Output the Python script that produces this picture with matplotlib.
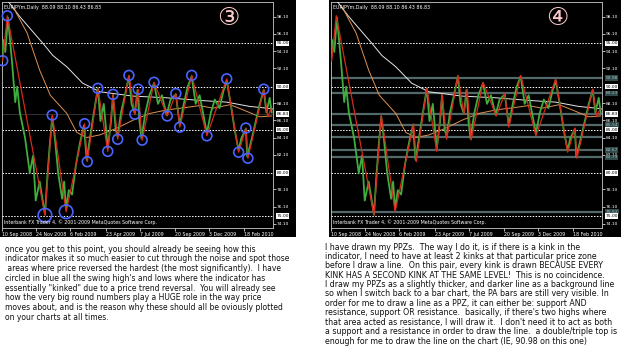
import numpy as np
import matplotlib.pyplot as plt
from matplotlib.patches import Rectangle
from matplotlib.transforms import blended_transform_factory

W, H = 625, 358

# trading-day index vs price
green_x = [0, 2, 5, 9, 15, 20, 23, 27, 35, 42, 47, 51, 57, 65, 69, 72, 76, 80, 85, 91,
           94, 97, 101, 106, 112, 118, 124, 128, 133, 139, 145, 149, 154, 160, 165, 168,
           172, 175, 180, 186, 192, 196, 201, 205, 208, 211, 217, 223, 230, 236, 242,
           249, 255, 263, 269, 275, 281, 287, 293, 299, 304, 310, 316, 322, 329, 335,
           340, 346, 352, 358, 362, 369, 371, 378, 384, 390, 396, 400, 405, 408]
green_y = [93.0, 95.4, 94.0, 98.0, 93.0, 88.2, 90.0, 87.0, 84.0, 80.0, 82.0, 76.8, 79.0,
           75.2, 80.0, 83.0, 86.5, 84.0, 80.0, 77.0, 79.0, 75.8, 78.0, 77.5, 81.0, 83.5,
           85.5, 81.5, 84.0, 87.0, 89.8, 86.0, 88.0, 82.8, 86.0, 89.0, 85.0, 84.2, 87.0,
           89.0, 91.2, 88.0, 86.9, 89.6, 86.0, 84.0, 87.0, 89.0, 90.4, 88.0, 89.0, 86.7,
           88.5, 89.1, 85.5, 88.0, 90.0, 91.2, 88.0, 89.0, 87.0, 84.6, 87.0, 88.5, 87.5,
           89.5, 90.7, 88.0, 85.0, 82.6, 84.0, 85.1, 81.9, 84.0, 86.0, 88.0, 89.6, 87.0,
           88.7, 87.0]

red_x = [1, 8, 65, 76, 97, 125, 129, 145, 160, 168, 175, 192, 201, 206, 212, 230, 250,
         263, 269, 287, 310, 340, 358, 369, 372, 396, 402, 407]
red_y = [93.0, 98.2, 75.1, 86.7, 75.5, 85.7, 81.3, 89.8, 82.5, 89.1, 83.9, 91.3, 86.8,
         89.7, 83.8, 90.5, 86.6, 89.2, 85.3, 91.3, 84.3, 90.9, 82.4, 85.2, 81.7, 89.7,
         86.5, 87.4]

white_x = [9, 27, 62, 77, 98, 122, 148, 198, 250, 299, 340, 375, 401, 410]
white_y = [99.9, 98.1, 95.0, 93.6, 92.3, 90.4, 89.4, 88.9, 88.7, 88.4, 88.2, 87.7, 87.5, 87.4]

orange_x = [17, 38, 57, 73, 98, 113, 128, 148, 174, 198, 224, 250, 280, 299, 319, 345,
            365, 390, 408]
orange_y = [99.2, 96.2, 91.9, 89.0, 86.9, 84.7, 84.1, 84.4, 85.2, 86.1, 86.9, 87.3, 87.6,
            87.8, 87.5, 87.9, 87.3, 86.5, 86.6]

# swing points circled on chart 3 (index into red_x), bigger ones at the lows
circle_idx = list(range(0, 26))
big_circles = [2, 4]

round_levels = [95.0, 90.0, 85.0, 80.0, 75.0]
tick_levels = [98.10, 96.10, 94.10, 92.10, 88.10, 86.10, 84.10, 82.10, 78.10, 76.10, 74.10]
white_boxes = [95.00, 90.00, 86.83, 85.00, 80.00, 75.00]
ppz_levels = [90.98, 89.23, 86.83, 85.54, 84.20, 82.67, 81.79, 75.52]
ppz_boxes = [90.98, 89.23, 85.54, 82.67, 81.79, 75.52]

date_pos = [0, 51, 103, 157, 209, 262, 313, 366]
date_labels = ['10 Sep 2008', '24 Nov 2008', '6 Feb 2009', '23 Apr 2009', '7 Jul 2009',
               '20 Sep 2009', '3 Dec 2009', '18 Feb 2010']

left_text = [
    "once you get to this point, you should already be seeing how this",
    "indicator makes it so much easier to cut through the noise and spot those",
    " areas where price reversed the hardest (the most significantly).  I have",
    "circled in blue all the swing high's and lows where the indicator has",
    "essentially \"kinked\" due to a price trend reversal.  You will already see",
    "how the very big round numbers play a HUGE role in the way price",
    "moves about, and is the reason why these should all be oviously plotted",
    "on your charts at all times.",
]
right_text = [
    "I have drawn my PPZs.  The way I do it, is if there is a kink in the",
    "indicator, I need to have at least 2 kinks at that particular price zone",
    "before I draw a line.  On this pair, every kink is drawn BECAUSE EVERY",
    "KINK HAS A SECOND KINK AT THE SAME LEVEL!  This is no coincidence.",
    "I draw my PPZs as a slightly thicker, and darker line as a background line",
    "so when I switch back to a bar chart, the PA bars are still very visible. In",
    "order for me to draw a line as a PPZ, it can either be: support AND",
    "resistance, support OR resistance.  basically, if there's two highs where",
    "that area acted as resistance, I will draw it.  I don't need it to act as both",
    "a support and a resistance in order to draw the line.  a double/triple top is",
    "enough for me to draw the line on the chart (IE, 90.98 on this one)",
]

fig = plt.figure(figsize=(W / 100, H / 100), dpi=100)
fig.patch.set_facecolor('white')


def px_rect(x0, y0, x1, y1):
    return [x0 / W, 1 - y1 / H, (x1 - x0) / W, (y1 - y0) / H]


def draw_chart(panel, plot, number, circles=False, ppz=False):
    r = px_rect(*panel)
    fig.add_artist(Rectangle((r[0], r[1]), r[2], r[3], transform=fig.transFigure,
                             fc='black', ec='none', zorder=-1))
    ax = fig.add_axes(px_rect(*plot))
    ax.set_facecolor('black')
    ax.set_xlim(0, 410)
    ax.set_ylim(73.62, 99.80)
    for s in ax.spines.values():
        s.set_color('#c8c8c8')
        s.set_linewidth(0.6)
    trans = blended_transform_factory(ax.transAxes, ax.transData)

    if ppz:
        for lv in ppz_levels:
            ax.axhline(lv, color='#53686a', lw=1.6, zorder=1)
    else:
        ax.axhline(86.83, color='#3a3a3a', lw=0.6, zorder=1)
    for lv in round_levels:
        ax.axhline(lv, color='white', lw=0.7, ls=(0, (1.5, 1.5)), zorder=2)

    ax.plot(white_x, white_y, color='#e6e6e6', lw=0.7, zorder=3)
    ax.plot(orange_x, orange_y, color='#e09050', lw=0.7, zorder=3)
    ax.plot(green_x, green_y, color='#3fae3f', lw=1.3, zorder=4)
    ax.plot(red_x, red_y, color='#d8281a', lw=0.9, zorder=5)

    if circles:
        cx = [red_x[i] for i in circle_idx]
        cy = [red_y[i] for i in circle_idx]
        sz = [95 if i in big_circles else 50 for i in circle_idx]
        ax.scatter(cx, cy, s=sz, facecolors='none', edgecolors='#4a64ff', lw=1.2,
                   zorder=6, clip_on=False)

    ax.set_yticks(tick_levels)
    ax.set_yticklabels(['%.2f' % v for v in tick_levels])
    ax.tick_params(axis='y', left=False, labelleft=False, right=True, labelright=True,
                   length=2, width=0.5, color='white', labelcolor='white',
                   labelsize=3.2, pad=1)
    ax.set_xticks(date_pos)
    ax.set_xticklabels(date_labels)
    ax.tick_params(axis='x', length=2, width=0.5, color='white', labelcolor='white',
                   labelsize=3.4, pad=1)
    for lbl in ax.get_xticklabels():
        lbl.set_ha('left')

    for lv in white_boxes:
        ax.text(1.012, lv, '%.2f' % lv, transform=trans, fontsize=3.2, color='black',
                va='center', ha='left', zorder=8,
                bbox=dict(boxstyle='square,pad=0.15', fc='white', ec='none'))
    if ppz:
        for lv in ppz_boxes:
            ax.text(1.012, lv, '%.2f' % lv, transform=trans, fontsize=3.2,
                    color='#a8bcbc', va='center', ha='left', zorder=7,
                    bbox=dict(boxstyle='square,pad=0.15', fc='#2e4a4a', ec='none'))

    ax.text(0.006, 0.985, 'EURJPYm,Daily  88.09 88.10 86.43 86.83', transform=ax.transAxes,
            fontsize=3.4, color='white', va='top', ha='left', zorder=9)
    ax.text(0.006, 0.015, 'Interbank FX Trader 4, \u00a9 2001-2009 MetaQuotes Software Corp.',
            transform=ax.transAxes, fontsize=3.4, color='white', va='bottom', ha='left',
            zorder=9)
    ax.text(0.835, 0.93, number, transform=ax.transAxes, fontsize=18, color='#ffc8c8',
            va='center', ha='center', family=['DejaVu Sans', 'Noto Sans CJK JP'], zorder=9)
    return ax


draw_chart((0, 0, 296, 237), (2, 2, 273, 228), '\u2462', circles=True)
draw_chart((329, 0, 621, 237), (331, 2, 602, 228), '\u2463', ppz=True)

for i, line in enumerate(left_text):
    fig.text(5 / W, 1 - (249 + i * 9.8) / H, line, fontsize=5.5, color='#111111',
             va='center', ha='left')
for i, line in enumerate(right_text):
    fig.text(325 / W, 1 - (247 + i * 9.4) / H, line, fontsize=5.65, color='#111111',
             va='center', ha='left')

fig.savefig('out.png', dpi=100, facecolor='white')
